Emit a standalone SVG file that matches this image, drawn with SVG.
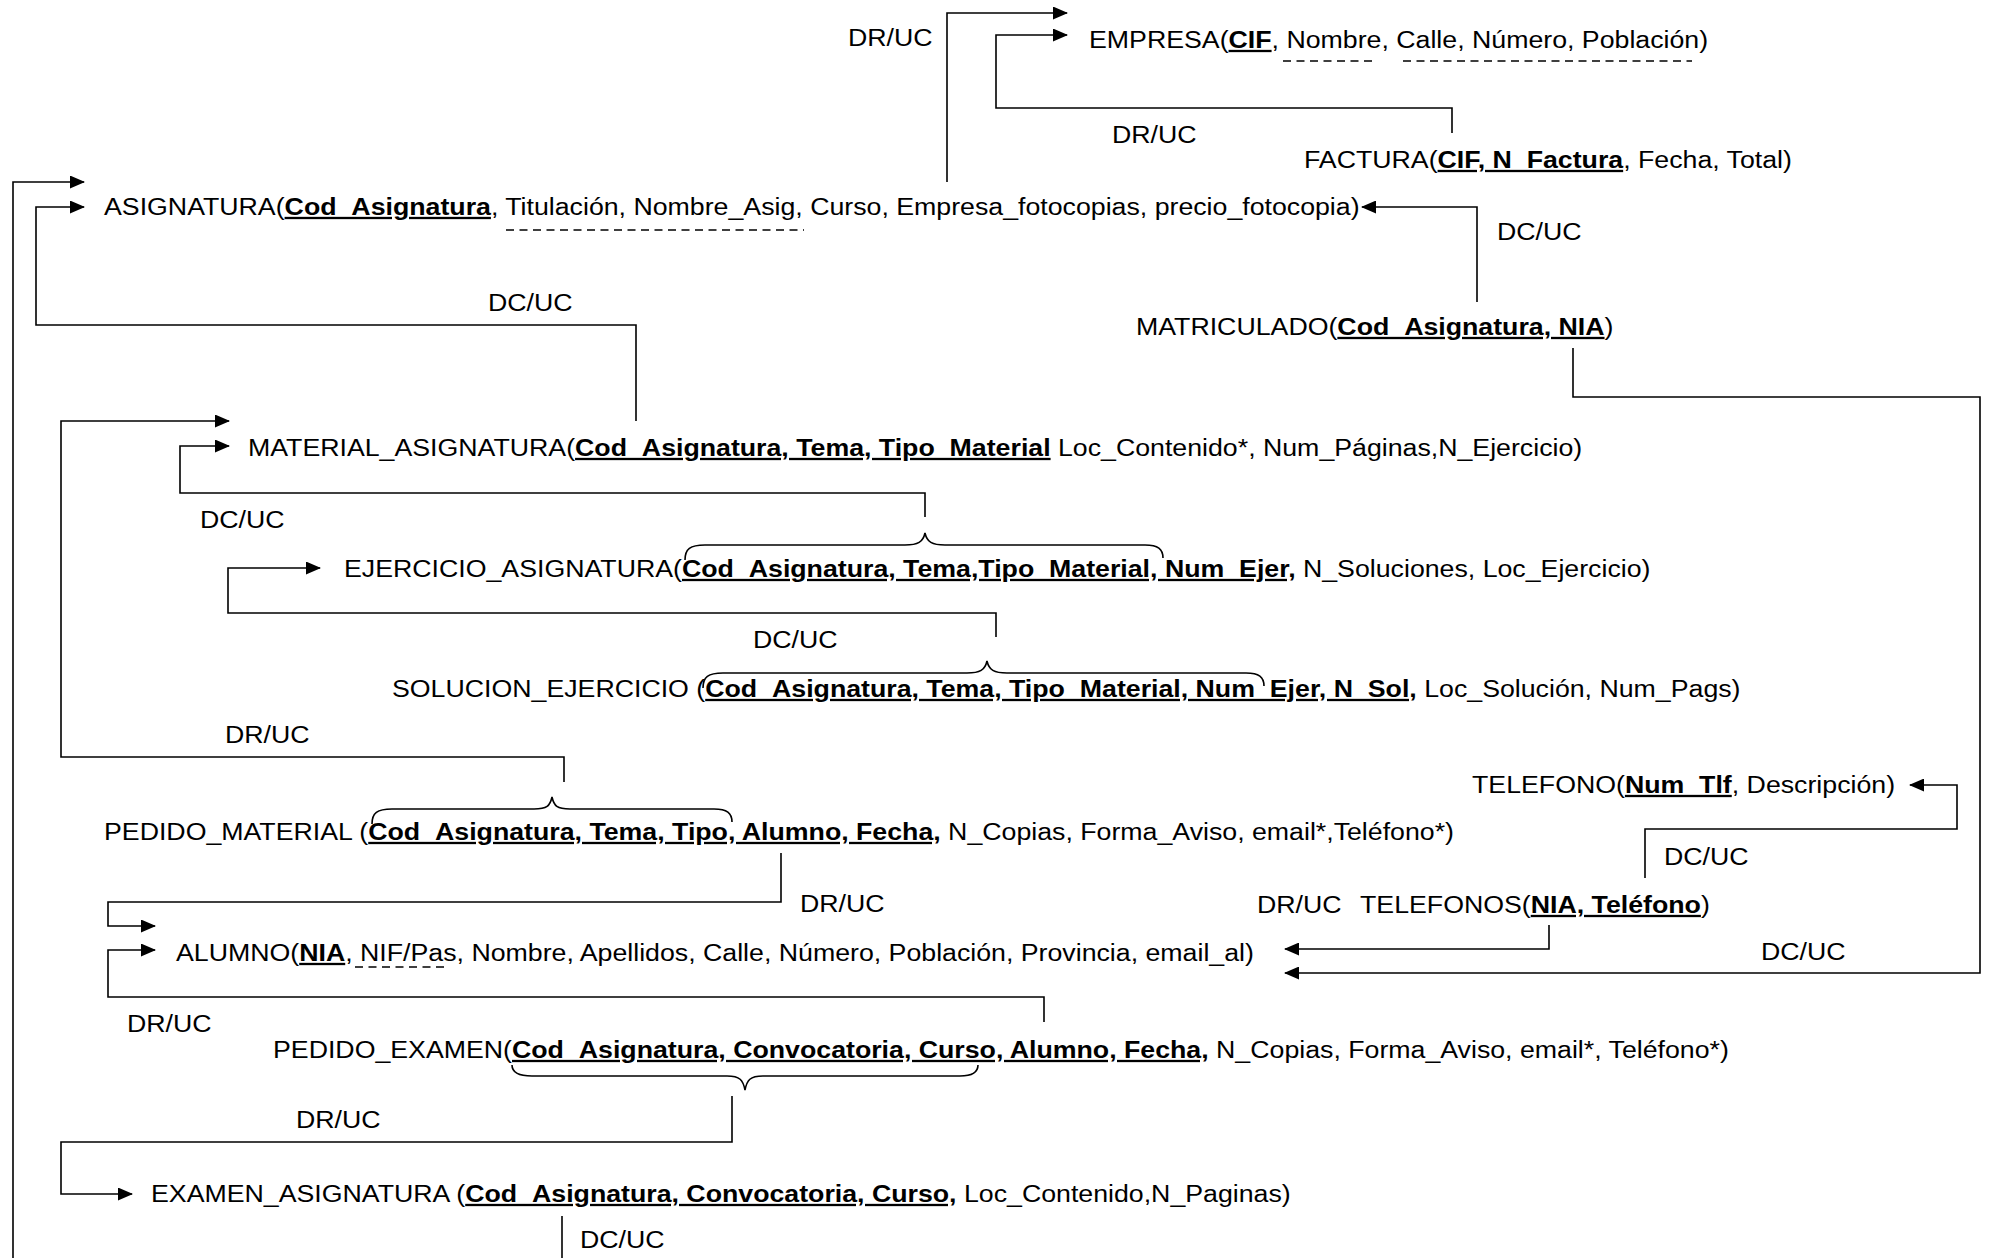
<svg xmlns="http://www.w3.org/2000/svg" width="1991" height="1258" viewBox="0 0 1991 1258">
<style>
text{font-family:"Liberation Sans",Arial,sans-serif;font-size:23px;fill:#000}
.k{font-weight:bold;text-decoration:underline}
.c{fill:none;stroke:#000;stroke-width:1.6}
.a{marker-end:url(#ah)}
.d{fill:none;stroke:#000;stroke-width:1.5;stroke-dasharray:8 5.5}
.b{fill:none;stroke:#000;stroke-width:1.6}
</style>
<defs>
<marker id="ah" markerUnits="userSpaceOnUse" markerWidth="15" markerHeight="13" refX="14" refY="6.5" orient="auto">
<path d="M0,0 L15,6.5 L0,13 z" fill="#000"/>
</marker>
</defs>
<rect width="1991" height="1258" fill="#fff"/>
<g id="connectors">
<path class="c a" d="M947,182 V13 H1067"/>
<path class="c a" d="M1452,133 V108 H996 V35 H1067"/>
<path class="c a" d="M13,1258 V182 H84"/>
<path class="c a" d="M636,421 V325 H36 V207 H84"/>
<path class="c a" d="M1477,302 V207 H1362"/>
<path class="c a" d="M1573,348 V397 H1980 V973 H1285"/>
<path class="c a" d="M564,782 V757 H61 V421 H229"/>
<path class="c a" d="M925,517 V493 H180 V446 H229"/>
<path class="c a" d="M996,637 V613 H228 V568 H320"/>
<path class="c a" d="M781,853 V902 H108 V926 H155"/>
<path class="c a" d="M1044,1022 V997 H108 V950 H155"/>
<path class="c a" d="M732,1096 V1142 H61 V1194 H132"/>
<path class="c" d="M562,1216 V1258"/>
<path class="c a" d="M1645,878 V829 H1957 V785 H1910"/>
<path class="c a" d="M1549,925 V949 H1285"/>
<path class="b" d="M685,560 C685,549 690,545 705,545 H905 C918,545 923,542 925,533 C927,542 932,545 945,545 H1145 C1158,545 1163,549 1163,558"/>
<path class="b" d="M703,688 C703,677 708,673 723,673 H967 C980,673 985,670 987,661 C989,670 994,673 1007,673 H1246 C1259,673 1264,677 1264,686"/>
<path class="b" d="M372,824 C372,813 377,809 392,809 H534 C547,809 550,806 552,797 C554,806 557,809 570,809 H714 C727,809 732,813 732,822"/>
<path class="b" d="M512,1065 C512,1072 517,1076 532,1076 H727 C740,1076 743,1080 745,1090 C747,1080 750,1076 763,1076 H960 C973,1076 978,1072 978,1065"/>
<text transform="translate(848,46) scale(1.162,1)">DR/UC</text>
<text transform="translate(1112,143) scale(1.162,1)">DR/UC</text>
<text transform="translate(1497,240) scale(1.162,1)">DC/UC</text>
<text transform="translate(488,311) scale(1.162,1)">DC/UC</text>
<text transform="translate(200,528) scale(1.162,1)">DC/UC</text>
<text transform="translate(753,648) scale(1.162,1)">DC/UC</text>
<text transform="translate(225,743) scale(1.162,1)">DR/UC</text>
<text transform="translate(1664,865) scale(1.162,1)">DC/UC</text>
<text transform="translate(800,912) scale(1.162,1)">DR/UC</text>
<text transform="translate(1257,913) scale(1.162,1)">DR/UC</text>
<text transform="translate(1761,960) scale(1.162,1)">DC/UC</text>
<text transform="translate(127,1032) scale(1.162,1)">DR/UC</text>
<text transform="translate(296,1128) scale(1.162,1)">DR/UC</text>
<text transform="translate(580,1248) scale(1.162,1)">DC/UC</text>
</g>
<g id="empresa">
<text transform="translate(1089,48) scale(1.162,1)">EMPRESA(<tspan class="k">CIF</tspan>, Nombre, Calle, Número, Población)</text>
<path class="d" d="M1283,61 H1376 M1403,61 H1692"/>
</g>
<g id="factura">
<text transform="translate(1304,168) scale(1.162,1)">FACTURA(<tspan class="k">CIF, N_Factura</tspan>, Fecha, Total)</text>
</g>
<g id="asignatura">
<text transform="translate(104,215) scale(1.162,1)">ASIGNATURA(<tspan class="k">Cod_Asignatura</tspan>, Titulación, Nombre_Asig, Curso, Empresa_fotocopias, precio_fotocopia)</text>
<path class="d" d="M506,230 H804"/>
</g>
<g id="matriculado">
<text transform="translate(1136,335) scale(1.162,1)">MATRICULADO(<tspan class="k">Cod_Asignatura, NIA</tspan>)</text>
</g>
<g id="material_asignatura">
<text transform="translate(248,456) scale(1.162,1)">MATERIAL_ASIGNATURA(<tspan class="k">Cod_Asignatura, Tema, Tipo_Material</tspan> Loc_Contenido*, Num_Páginas,N_Ejercicio)</text>
</g>
<g id="ejercicio_asignatura">
<text transform="translate(344,577) scale(1.162,1)">EJERCICIO_ASIGNATURA(<tspan class="k">Cod_Asignatura, Tema,Tipo_Material, Num_Ejer,</tspan> N_Soluciones, Loc_Ejercicio)</text>
</g>
<g id="solucion_ejercicio">
<text transform="translate(392,697) scale(1.162,1)">SOLUCION_EJERCICIO (<tspan class="k">Cod_Asignatura, Tema, Tipo_Material, Num_Ejer, N_Sol,</tspan> Loc_Solución, Num_Pags)</text>
</g>
<g id="telefono">
<text transform="translate(1472,793) scale(1.162,1)">TELEFONO(<tspan class="k">Num_Tlf</tspan>, Descripción)</text>
</g>
<g id="pedido_material">
<text transform="translate(104,840) scale(1.162,1)">PEDIDO_MATERIAL (<tspan class="k">Cod_Asignatura, Tema, Tipo, Alumno, Fecha,</tspan> N_Copias, Forma_Aviso, email*,Teléfono*)</text>
</g>
<g id="telefonos">
<text transform="translate(1360,913) scale(1.162,1)">TELEFONOS(<tspan class="k">NIA, Teléfono</tspan>)</text>
</g>
<g id="alumno">
<text transform="translate(176,961) scale(1.162,1)">ALUMNO(<tspan class="k">NIA</tspan>, NIF/Pas, Nombre, Apellidos, Calle, Número, Población, Provincia, email_al)</text>
<path class="d" d="M355,967 H446"/>
</g>
<g id="pedido_examen">
<text transform="translate(273,1058) scale(1.162,1)">PEDIDO_EXAMEN(<tspan class="k">Cod_Asignatura, Convocatoria, Curso, Alumno, Fecha,</tspan> N_Copias, Forma_Aviso, email*, Teléfono*)</text>
</g>
<g id="examen_asignatura">
<text transform="translate(151,1202) scale(1.162,1)">EXAMEN_ASIGNATURA (<tspan class="k">Cod_Asignatura, Convocatoria, Curso,</tspan> Loc_Contenido,N_Paginas)</text>
</g>
</svg>
